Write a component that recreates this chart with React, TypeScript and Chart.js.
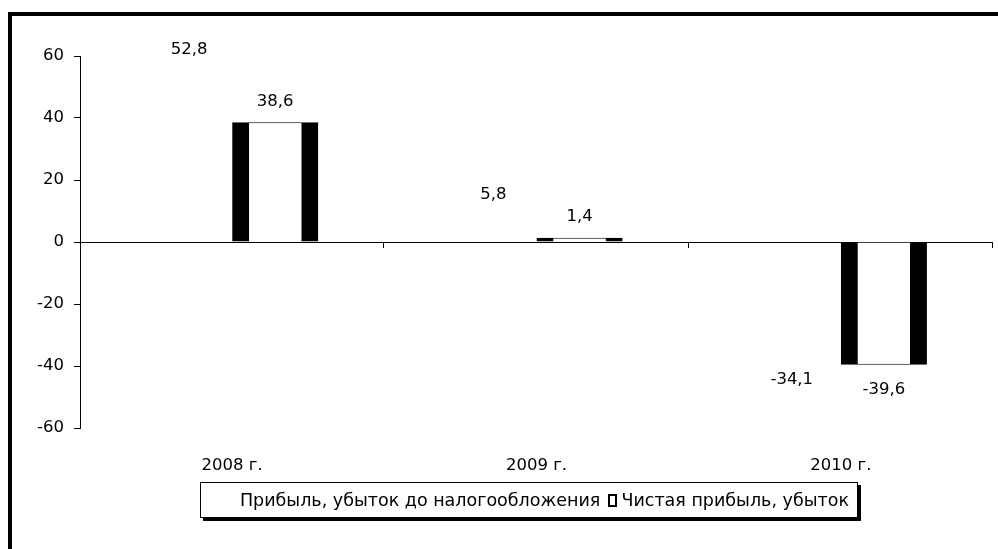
import React, { useEffect, useRef } from "react";
import { Chart, registerables } from "chart.js";

Chart.register(...registerables);

const categories = ["2008 г.", "2009 г.", "2010 г."];
const profitBeforeTax = [52.8, 5.8, -34.1];
const netProfit = [38.6, 1.4, -39.6];
const seriesNames = ["Прибыль, убыток до налогообложения", "Чистая прибыль, убыток"];
const yMin = -60;
const yMax = 60;
const yStep = 20;

const FONT = "'DejaVu Sans', sans-serif";

const fmt = (v: number) => v.toFixed(1).replace(".", ",");

const labelsPlugin = {
  id: "valueLabels",
  afterDatasetsDraw(chart: any) {
    const ctx = chart.ctx;
    ctx.save();
    ctx.font = `16.5px ${FONT}`;
    ctx.fillStyle = "#000";
    ctx.textAlign = "center";
    ctx.textBaseline = "middle";
    const offsetsPos = [29, 21];
    const offsetsNeg = [32, 25];
    chart.data.datasets.forEach((ds: any, di: number) => {
      const meta = chart.getDatasetMeta(di);
      meta.data.forEach((el: any, i: number) => {
        const v = ds.data[i];
        const y = v >= 0 ? el.y - offsetsPos[di] : el.y + offsetsNeg[di];
        ctx.fillText(fmt(v), el.x - (di === 0 && v < 0 ? 6 : 0), y);
      });
    });
    ctx.restore();
  },
};

const xTicksPlugin = {
  id: "xBoundaryTicks",
  afterDatasetsDraw(chart: any) {
    const ctx = chart.ctx;
    const xs = chart.scales.x;
    const ys = chart.scales.y;
    const y0 = ys.getPixelForValue(0);
    ctx.save();
    ctx.strokeStyle = "#000";
    ctx.lineWidth = 1;
    for (let i = 0; i < categories.length; i++) {
      const x = Math.round(xs.getPixelForValue(i + 0.5)) - 0.5;
      ctx.beginPath();
      ctx.moveTo(x, y0);
      ctx.lineTo(x, y0 + 6);
      ctx.stroke();
    }
    ctx.restore();
  },
};

export default function App() {
  const ref = useRef<HTMLCanvasElement>(null);
  useEffect(() => {
    if (!ref.current) return;
    const chart = new Chart(ref.current, {
      type: "bar",
      data: {
        labels: categories,
        datasets: [
          {
            label: seriesNames[0],
            data: profitBeforeTax,
            backgroundColor: "rgba(0,0,0,0)",
            borderWidth: 0,
          },
          {
            label: seriesNames[1],
            data: netProfit,
            backgroundColor: "#fff",
            borderColor: "#000",
            borderWidth: { left: 17, right: 17, top: 1, bottom: 1 },
            borderSkipped: "start",
          },
        ],
      },
      options: {
        responsive: false,
        animation: false,
        layout: { padding: { left: 12, right: 5, top: 56, bottom: 0 } },
        datasets: {
          bar: { categoryPercentage: 0.566, barPercentage: 1.0 },
        },
        plugins: {
          legend: { display: false },
          tooltip: { enabled: false },
        },
        scales: {
          x: {
            grid: { display: false },
            border: { display: false },
            ticks: {
              color: "#000",
              font: { family: FONT, size: 16.5 },
              padding: 20,
              maxRotation: 0,
            },
            afterFit: (s: any) => {
              s.height = 121;
            },
          },
          y: {
            min: yMin,
            max: yMax,
            border: { display: true, color: "#000", width: 1 },
            grid: {
              drawOnChartArea: true,
              color: (c: any) => (c.tick && c.tick.value === 0 ? "#000" : "rgba(0,0,0,0)"),
              tickColor: "#000",
              tickLength: 6,
              lineWidth: 1,
            },
            ticks: {
              stepSize: yStep,
              color: "#000",
              font: { family: FONT, size: 16.5 },
              padding: 10,
            },
            afterFit: (s: any) => {
              s.width = 68;
            },
          },
        },
      },
      plugins: [labelsPlugin, xTicksPlugin],
    });
    return () => chart.destroy();
  }, []);

  return (
    <div style={{ position: "absolute", left: 0, top: 0, width: 998, height: 549, overflow: "hidden", background: "#fff" }}>
      <div
        style={{
          position: "absolute",
          left: 8,
          top: 12,
          width: 990,
          height: 537,
          borderTop: "4px solid #000",
          borderLeft: "4px solid #000",
          boxSizing: "border-box",
        }}
      />
      <canvas ref={ref} width={998} height={549} style={{ position: "absolute", left: 0, top: 0 }} />
      <div
        style={{
          position: "absolute",
          left: 200,
          top: 482,
          width: 658,
          height: 36,
          border: "1px solid #000",
          boxShadow: "3px 3px 0 #000",
          background: "#fff",
          boxSizing: "border-box",
          display: "flex",
          alignItems: "center",
          justifyContent: "flex-end",
          paddingRight: 8,
          fontFamily: FONT,
          fontSize: 17.5,
          color: "#000",
          whiteSpace: "nowrap",
        }}
      >
        <span>{seriesNames[0]}</span>
        <span
          style={{
            display: "inline-block",
            width: 5,
            height: 9,
            border: "2px solid #000",
            background: "#fff",
            margin: "0 4px 0 8px",
          }}
        />
        <span>{seriesNames[1]}</span>
      </div>
    </div>
  );
}
